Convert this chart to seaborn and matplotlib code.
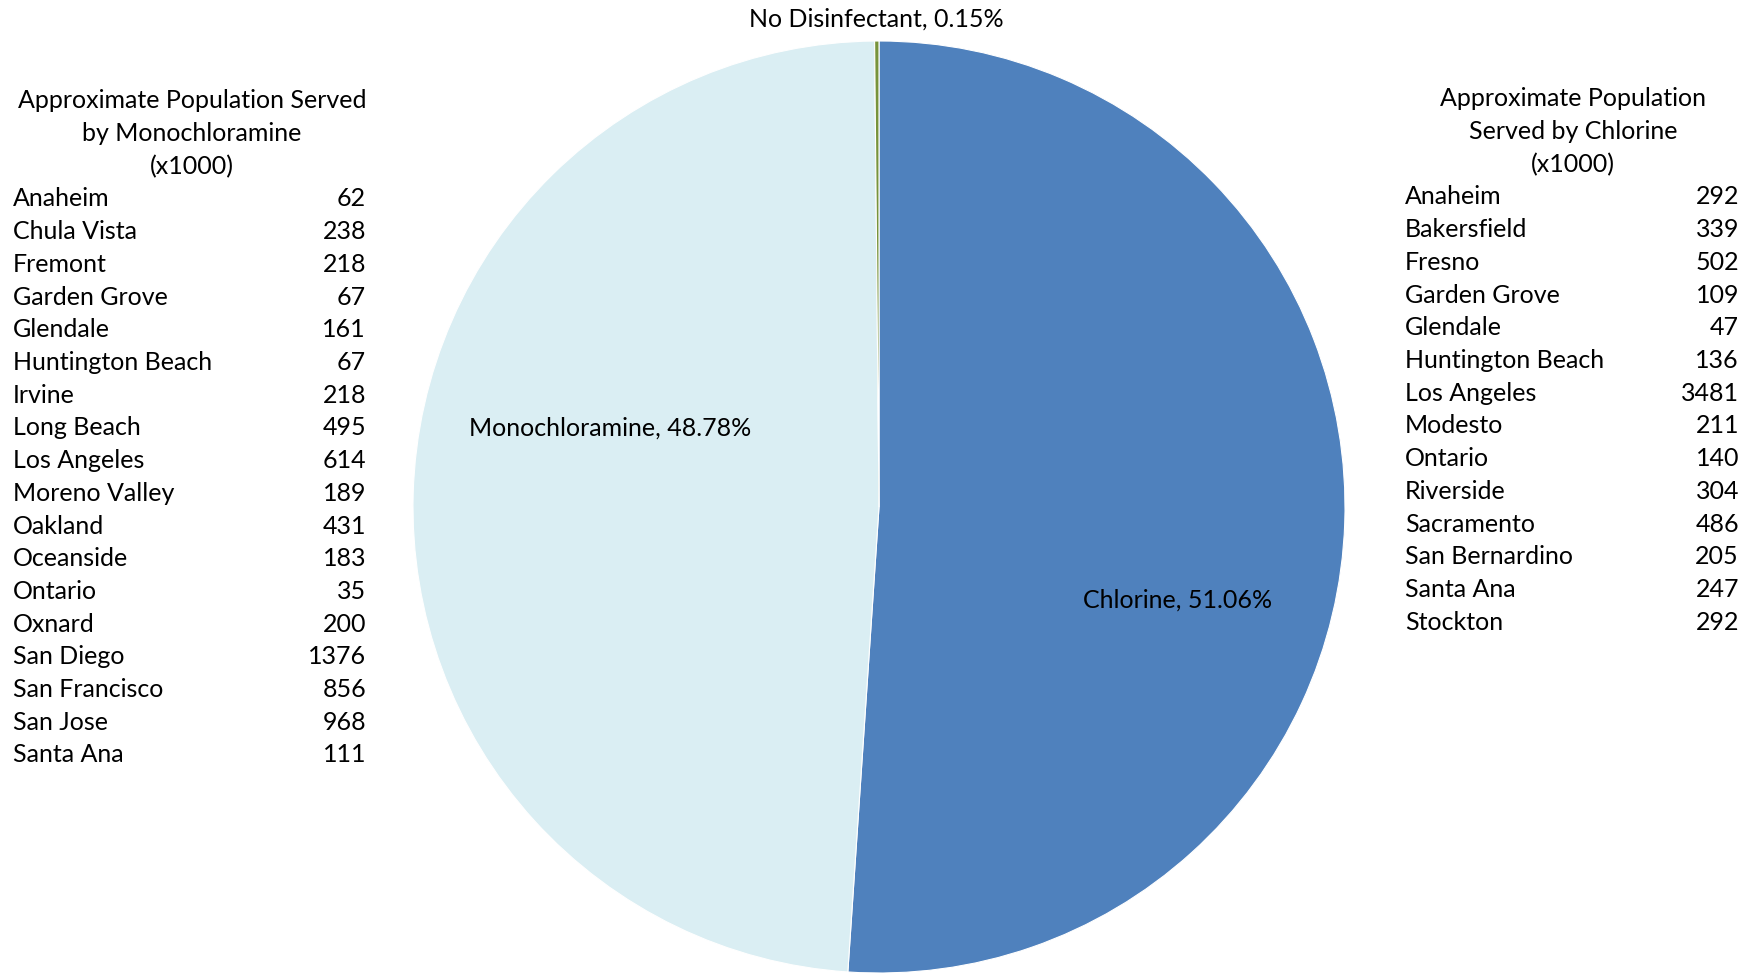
import matplotlib
matplotlib.use('Agg')
import matplotlib.pyplot as plt
import seaborn as sns

# ── Data ──────────────────────────────────────────────────────────────
slice_labels = ['Chlorine', 'Monochloramine', 'No Disinfectant']
slice_pcts   = [51.06, 48.78, 0.15]
slice_colors = ['#4F81BD', '#DAEEF3', '#77933C']

mono_cities = ['Anaheim', 'Chula Vista', 'Fremont', 'Garden Grove', 'Glendale',
               'Huntington Beach', 'Irvine', 'Long Beach', 'Los Angeles',
               'Moreno Valley', 'Oakland', 'Oceanside', 'Ontario', 'Oxnard',
               'San Diego', 'San Francisco', 'San Jose', 'Santa Ana']
mono_pop    = [62, 238, 218, 67, 161, 67, 218, 495, 614, 189, 431, 183, 35,
               200, 1376, 856, 968, 111]

chl_cities = ['Anaheim', 'Bakersfield', 'Fresno', 'Garden Grove', 'Glendale',
              'Huntington Beach', 'Los Angeles', 'Modesto', 'Ontario',
              'Riverside', 'Sacramento', 'San Bernardino', 'Santa Ana', 'Stockton']
chl_pop    = [292, 339, 502, 109, 47, 136, 3481, 211, 140, 304, 486, 205, 247, 292]

sns.set_theme(style='white')
plt.rcParams['font.family'] = ['Lato', 'DejaVu Sans']

W, H = 1754, 973
fig = plt.figure(figsize=(W / 100, H / 100), dpi=100)

# pie axes: centre (879, 507) px from top-left, radius 466 px
cx, cy, r = 879, 507, 466
ax = fig.add_axes([(cx - r) / W, (H - cy - r) / H, 2 * r / W, 2 * r / H])
wedges, _ = ax.pie(slice_pcts, colors=slice_colors, startangle=90,
                   counterclock=False,
                   wedgeprops=dict(edgecolor='white', linewidth=0.8))
ax.set_xlim(-1, 1)
ax.set_ylim(-1, 1)
ax.set_aspect('equal')
ax.axis('off')

FS = 18
def px(x, y):
    return x / W, 1 - y / H

label_pos = {'Chlorine': (1178, 600), 'Monochloramine': (610, 428),
             'No Disinfectant': (876, 19)}
for lab, pct in zip(slice_labels, slice_pcts):
    fig.text(*px(*label_pos[lab]), f'{lab}, {pct:.2f}%', ha='center',
             va='center', fontsize=FS, color='black')

# ── Side tables ───────────────────────────────────────────────────────
def draw_table(header, cities, pops, hx, hy0, name_x, num_x, row_y0):
    for i, line in enumerate(header):
        fig.text(*px(hx, hy0 + i * 32.7), line, ha='center', va='center',
                 fontsize=FS, color='black')
    for i, (c, p) in enumerate(zip(cities, pops)):
        y = row_y0 + i * 32.7
        fig.text(*px(name_x, y), c, ha='left', va='center', fontsize=FS,
                 color='black')
        fig.text(*px(num_x, y), str(p), ha='right', va='center', fontsize=FS,
                 color='black')

draw_table(['Approximate Population Served', 'by Monochloramine', '(x1000)'],
           mono_cities, mono_pop, 192, 101, 13, 366, 199)
draw_table(['Approximate Population', 'Served by Chlorine', '(x1000)'],
           chl_cities, chl_pop, 1573, 99, 1405, 1739, 197)

fig.savefig('out.png', dpi=100)
